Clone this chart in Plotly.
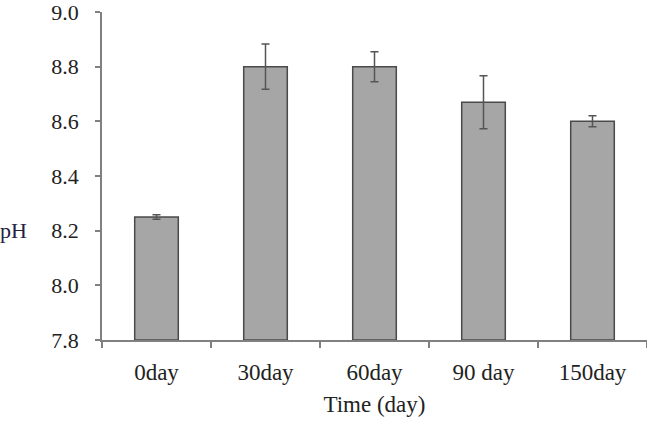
import plotly.graph_objects as go

categories = ["0day", "30day", "60day", "90 day", "150day"]
ph_values = [8.25, 8.80, 8.80, 8.67, 8.60]
ph_errors = [0.008, 0.083, 0.055, 0.097, 0.02]
y_ticks = [7.8, 8.0, 8.2, 8.4, 8.6, 8.8, 9.0]
y_tick_labels = ["7.8", "8.0", "8.2", "8.4", "8.6", "8.8", "9.0"]
y_base = 7.8

font_family = "'Times New Roman', 'Liberation Serif', Times, serif"

fig = go.Figure(
    go.Bar(
        x=categories,
        y=[v - y_base for v in ph_values],
        base=y_base,
        marker=dict(color="#a6a6a6", line=dict(color="#4a4a4a", width=1.5)),
        error_y=dict(type="data", array=ph_errors, visible=True,
                     color="#555555", thickness=1.5, width=4),
    )
)

fig.update_layout(
    width=647, height=421,
    margin=dict(l=102, r=0, t=6, b=81),
    plot_bgcolor="white", paper_bgcolor="white",
    bargap=0.6,
    showlegend=False,
    font=dict(family=font_family, color="#222222", size=21),
    xaxis=dict(
        type="category",
        showline=True, linecolor="#808080", linewidth=1.5,
        ticks="outside", tickson="boundaries", ticklen=6, tickcolor="#808080", tickwidth=1.5,
        tickfont=dict(size=23, family=font_family, color="#222222"),
        ticklabelstandoff=11,
        title=dict(text="Time (day)", font=dict(size=23, family=font_family, color="#222222"), standoff=12),
        showgrid=False, zeroline=False,
    ),
    yaxis=dict(
        range=[7.8, 9.0],
        tickvals=y_ticks, ticktext=y_tick_labels,
        showline=True, linecolor="#808080", linewidth=1.5,
        ticks="outside", ticklen=5, tickcolor="#808080", tickwidth=1.5,
        tickfont=dict(size=22, family=font_family, color="#222222"),
        ticklabelstandoff=12,
        ticklabeloverflow="allow",
        showgrid=False, zeroline=False,
    ),
    annotations=[dict(
        text="pH", x=0, y=8.2, xref="paper", yref="y",
        xanchor="right", yanchor="middle", xshift=-73, showarrow=False,
        font=dict(size=22, family=font_family, color="#222244"),
    )],
)

fig.write_html("out.html")
